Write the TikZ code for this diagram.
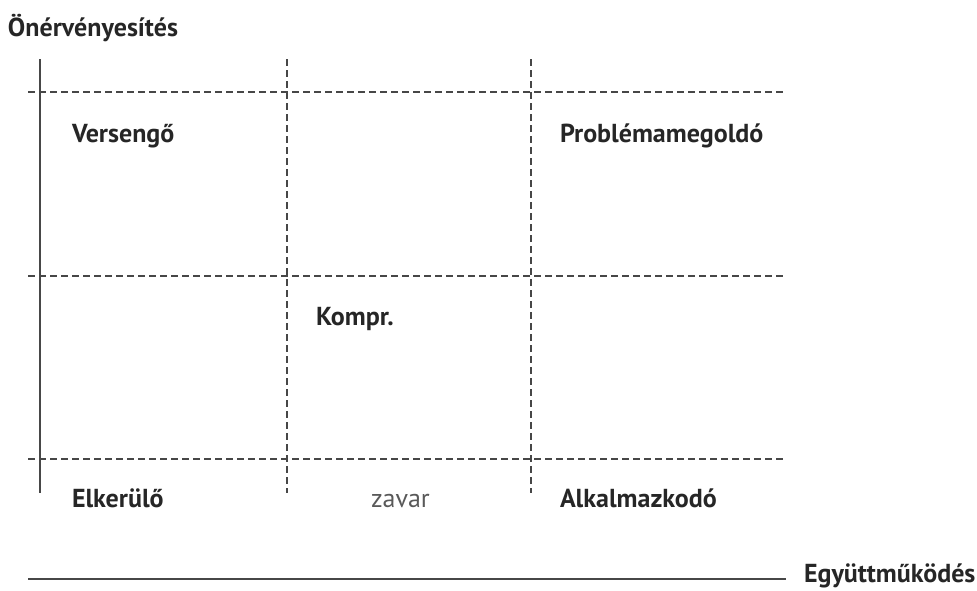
\documentclass[tikz,border=0pt]{standalone}
\usepackage{fontspec}
\setmainfont{PT Sans}
\begin{document}
\begin{tikzpicture}[x=1pt,y=-1pt,
  gridline/.style={draw=black!72,line width=1.3pt,dash pattern=on 7pt off 4pt},
  axisline/.style={draw=black!72,line width=1.4pt},
  lab/.style={anchor=base west,inner sep=0pt,outer sep=0pt,text=black!85,font=\fontsize{26}{28}\selectfont\bfseries},
  lablight/.style={anchor=base west,inner sep=0pt,outer sep=0pt,text=black!65,font=\fontsize{26}{28}\selectfont}]
\useasboundingbox (0,0) rectangle (977,590);
% coordinates
\coordinate (vA) at (40,59);   \coordinate (vAe) at (40,493);
\coordinate (vB) at (287,59);  \coordinate (vBe) at (287,493);
\coordinate (vC) at (531,59);  \coordinate (vCe) at (531,493);
\coordinate (h1) at (28,92);   \coordinate (h1e) at (786,92);
\coordinate (h2) at (28,276);  \coordinate (h2e) at (786,276);
\coordinate (h3) at (28,459);  \coordinate (h3e) at (786,459);
\coordinate (b1) at (28,579);  \coordinate (b1e) at (786,579);
\draw[axisline] (vA) -- (vAe);
\draw[gridline] (vB) -- (vBe);
\draw[gridline] (vC) -- (vCe);
\draw[gridline] (h1) -- (h1e);
\draw[gridline] (h2) -- (h2e);
\draw[gridline] (h3) -- (h3e);
\draw[axisline] (b1) -- (b1e);
\node[lab] (onerv) at (8,36) {Önérvényesítés};
\node[lab] (verseng) at (72,142) {Versengő};
\node[lab] (problema) at (560,142) {Problémamegoldó};
\node[lab] (kompr) at (316,325) {Kompr.};
\node[lab] (elkerulo) at (72,507) {Elkerülő};
\node[lablight] (zavar) at (371,507) {zavar};
\node[lab] (alkalm) at (560,507) {Alkalmazkodó};
\node[lab] (egyutt) at (804,582) {Együttműködés};
\end{tikzpicture}
\end{document}
